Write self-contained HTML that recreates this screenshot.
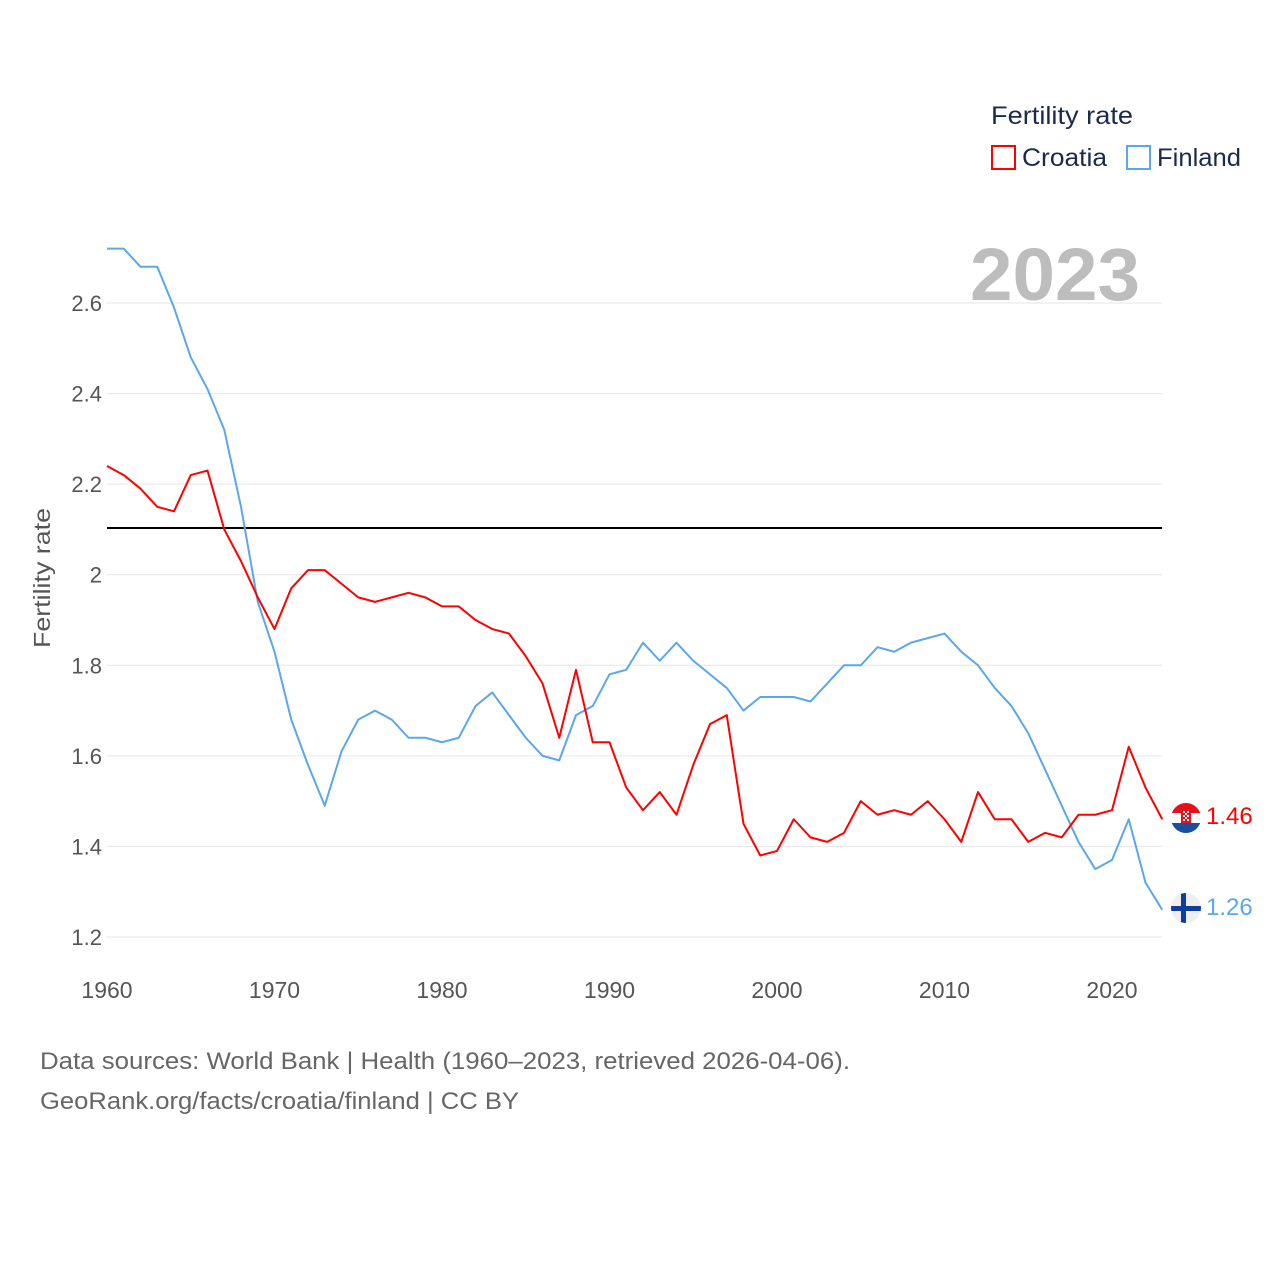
<!DOCTYPE html>
<html><head><meta charset="utf-8"><style>
body{margin:0;background:#fff;width:1280px;height:1280px;overflow:hidden;font-family:"Liberation Sans",sans-serif}
</style></head><body>
<svg id="chart" width="1280" height="1280" xmlns="http://www.w3.org/2000/svg" font-family="Liberation Sans, sans-serif">
<defs>
<clipPath id="c1"><circle cx="1186" cy="818" r="15"/></clipPath>
<clipPath id="c2"><circle cx="1186" cy="908" r="15"/></clipPath>
</defs>
<g id="grid"></g>
<g id="yticks"></g>
<g id="xticks"></g>
<line x1="107" x2="1162" y1="528" y2="528" stroke="#000" stroke-width="2"/>
<text transform="translate(50,578) rotate(-90)" text-anchor="middle" font-size="23" fill="#555" textLength="140" lengthAdjust="spacingAndGlyphs">Fertility rate</text>
<text x="1140" y="300" text-anchor="end" font-size="74" font-weight="bold" fill="#bdbdbd" textLength="170" lengthAdjust="spacingAndGlyphs">2023</text>
<g id="series"></g>
<g clip-path="url(#c1)">
<rect x="1171" y="803" width="30" height="10" fill="#e8101b"/><rect x="1171" y="813" width="30" height="10" fill="#fff"/><rect x="1171" y="823" width="30" height="10" fill="#1a4fa0"/>
<rect x="1181" y="809" width="10" height="14" fill="#e8101b"/><rect x="1183" y="811" width="2" height="2" fill="#fff"/><rect x="1187" y="811" width="2" height="2" fill="#fff"/><rect x="1185" y="813" width="2" height="2" fill="#fff"/><rect x="1183" y="815" width="2" height="2" fill="#fff"/><rect x="1187" y="815" width="2" height="2" fill="#fff"/><rect x="1185" y="817" width="2" height="2" fill="#fff"/><rect x="1183" y="819" width="2" height="2" fill="#fff"/><rect x="1187" y="819" width="2" height="2" fill="#fff"/>
</g>
<g clip-path="url(#c2)">
<rect x="1171" y="893" width="30" height="30" fill="#eee"/><rect x="1181" y="893" width="5" height="30" fill="#0d3f9a"/><rect x="1171" y="906" width="30" height="5" fill="#0d3f9a"/>
</g>
<text x="1206" y="824" font-size="24" fill="#f00">1.46</text>
<text x="1206" y="915" font-size="24" fill="#5aa7ee">1.26</text>
<text x="991" y="124" font-size="25" fill="#1a2a4a" textLength="142" lengthAdjust="spacingAndGlyphs">Fertility rate</text>
<rect x="992" y="146" width="23" height="23" fill="none" stroke="#f00" stroke-width="2"/>
<text x="1022" y="166" font-size="25" fill="#1a2a4a" textLength="85" lengthAdjust="spacingAndGlyphs">Croatia</text>
<rect x="1127" y="146" width="23" height="23" fill="none" stroke="#5aa7ee" stroke-width="2"/>
<text x="1157" y="166" font-size="25" fill="#1a2a4a" textLength="84" lengthAdjust="spacingAndGlyphs">Finland</text>
<text x="40" y="1069" font-size="24" fill="#666" textLength="810" lengthAdjust="spacingAndGlyphs">Data sources: World Bank | Health (1960–2023, retrieved 2026-04-06).</text>
<text x="40" y="1109" font-size="24" fill="#666" textLength="479" lengthAdjust="spacingAndGlyphs">GeoRank.org/facts/croatia/finland | CC BY</text>
</svg>
<script>
const years=[];for(let y=1960;y<=2023;y++)years.push(y);
const croatia=[2.24,2.22,2.19,2.15,2.14,2.22,2.23,2.10,2.03,1.95,1.88,1.97,2.01,2.01,1.98,1.95,1.94,1.95,1.96,1.95,1.93,1.93,1.90,1.88,1.87,1.82,1.76,1.64,1.79,1.63,1.63,1.53,1.48,1.52,1.47,1.58,1.67,1.69,1.45,1.38,1.39,1.46,1.42,1.41,1.43,1.50,1.47,1.48,1.47,1.50,1.46,1.41,1.52,1.46,1.46,1.41,1.43,1.42,1.47,1.47,1.48,1.62,1.53,1.46];
const finland=[2.72,2.72,2.68,2.68,2.59,2.48,2.41,2.32,2.15,1.94,1.83,1.68,1.58,1.49,1.61,1.68,1.70,1.68,1.64,1.64,1.63,1.64,1.71,1.74,1.69,1.64,1.60,1.59,1.69,1.71,1.78,1.79,1.85,1.81,1.85,1.81,1.78,1.75,1.70,1.73,1.73,1.73,1.72,1.76,1.80,1.80,1.84,1.83,1.85,1.86,1.87,1.83,1.80,1.75,1.71,1.65,1.57,1.49,1.41,1.35,1.37,1.46,1.32,1.26];
const yTicks=[1.2,1.4,1.6,1.8,2,2.2,2.4,2.6];
const xTicks=[1960,1970,1980,1990,2000,2010,2020];
const X=y=>107+(y-1960)*16.75;
const Y=v=>937-(v-1.2)*452.86;
const NS="http://www.w3.org/2000/svg";
function mk(t,a,p){const e=document.createElementNS(NS,t);for(const k in a)e.setAttribute(k,a[k]);p.appendChild(e);return e;}
const grid=document.getElementById('grid'),yt=document.getElementById('yticks'),xt=document.getElementById('xticks'),ser=document.getElementById('series');
yTicks.forEach(v=>{
 const l=mk('line',{x1:107,x2:1162,y1:Y(v),y2:Y(v),stroke:'#e6e6e6','stroke-width':1},grid);
 
 
 const t=mk('text',{x:102,y:Y(v)+8,'text-anchor':'end','font-size':22,fill:'#555'},yt);
 t.textContent=String(v);
 
 
});
xTicks.forEach(v=>{
 const t=mk('text',{x:X(v),y:998,'text-anchor':'middle','font-size':23,fill:'#555'},xt);
 t.textContent=String(v);
 
 
});
function line(d,c,n){
 const p=mk('polyline',{points:d.map((v,i)=>X(years[i])+','+Y(v)).join(' '),fill:'none',stroke:c,'stroke-width':2,'stroke-linejoin':'round'},ser);
 
 
}
line(finland,'#5aa7ee','finland-line');
line(croatia,'#f00','croatia-line');
</script>
</body></html>
